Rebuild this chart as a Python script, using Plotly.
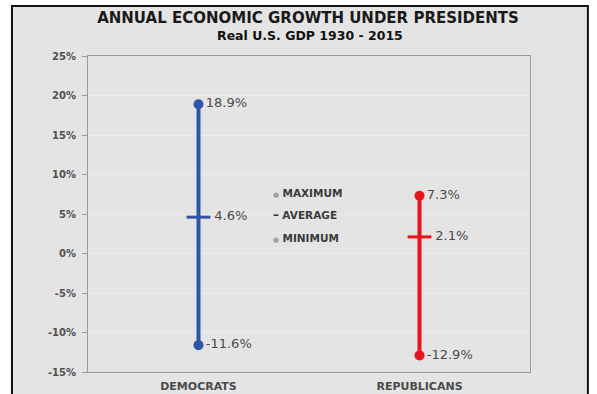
import plotly.graph_objects as go

parties = ["DEMOCRATS", "REPUBLICANS"]
maximum = [18.9, 7.3]
average = [4.6, 2.1]
minimum = [-11.6, -12.9]
colors = ["#2f56a6", "#e8141c"]
y_ticks = [-15, -10, -5, 0, 5, 10, 15, 20, 25]
y_tick_text = ["-15%", "-10%", "-5%", "0%", "5%", "10%", "15%", "20%", "25%"]
legend_labels = ["MAXIMUM", "AVERAGE", "MINIMUM"]

FONT = "DejaVu Sans"
fig = go.Figure()

for i, p in enumerate(parties):
    c = colors[i]
    fig.add_trace(go.Scatter(
        x=[p, p], y=[minimum[i], maximum[i]], mode="lines+markers+text",
        line=dict(color=c, width=4), marker=dict(color=c, size=10),
        text=[f"{minimum[i]}%", f"{maximum[i]}%"], textposition="middle right",
        textfont=dict(family=FONT, size=13, color="#4a4a4a"),
        showlegend=False, hoverinfo="skip"))
    fig.add_trace(go.Scatter(
        x=[p], y=[average[i]], mode="markers+text",
        marker=dict(symbol="line-ew", size=17, line=dict(color=c, width=3)),
        text=[f" {average[i]}%"], textposition="middle right",
        textfont=dict(family=FONT, size=13, color="#4a4a4a"),
        showlegend=False, hoverinfo="skip"))

# outer frame
fig.add_shape(type="rect", xref="paper", yref="paper",
              x0=-0.172, x1=1.131, y0=-0.6, y1=1.158,
              fillcolor="#e4e4e4", line=dict(color="#111111", width=2), layer="below")

# legend text
leg_y = [193, 215, 238]
leg_sym = ["●", "<b>–</b>", "●"]
leg_size = [7, 12, 7]
leg_col = ["#a0a0a0", "#333333", "#a0a0a0"]
for lab, py, sym, sc, ss in zip(legend_labels, leg_y, leg_sym, leg_col, leg_size):
    yp = (372 - py) / 316
    fig.add_annotation(xref="paper", yref="paper", x=(271 - 88) / 442, y=yp,
                       text=f"<span style='color:{sc};font-size:{ss}px'>{sym}</span> <b>{lab}</b>",
                       showarrow=False, xanchor="left", yanchor="middle",
                       font=dict(family=FONT, size=10.5, color="#3a3a3a"))

fig.add_annotation(xref="paper", yref="paper", x=(310 - 88) / 442, y=(372 - 35) / 316,
                   text="<b>Real U.S. GDP 1930 - 2015</b>", showarrow=False,
                   xanchor="center", yanchor="middle",
                   font=dict(family=FONT, size=12.5, color="#111111"))

fig.update_layout(
    width=597, height=394,
    margin=dict(l=88, r=67, t=56, b=22),
    paper_bgcolor="white", plot_bgcolor="#e6e6e6",
    title=dict(text="<b>ANNUAL ECONOMIC GROWTH UNDER PRESIDENTS</b>",
               x=308 / 597, xanchor="center", y=1 - 18 / 394, yanchor="middle",
               font=dict(family=FONT, size=15, color="#1a1a1a")),
    xaxis=dict(range=[-0.5, 1.5], showline=True, linecolor="#9a9a9a", linewidth=1,
               mirror=True, showgrid=False, ticks="", automargin=False,
               ticklabelstandoff=4,
               tickfont=dict(family=FONT, size=11, color="#4a4a4a", weight="bold")),
    yaxis=dict(range=[-15, 25], tickvals=y_ticks, ticktext=y_tick_text,
               showline=True, linecolor="#9a9a9a", linewidth=1, mirror=True,
               ticks="outside", ticklen=5, tickcolor="#9a9a9a", automargin=False,
               ticklabelstandoff=4,
               showgrid=True, gridcolor="#ececec", zeroline=False,
               tickfont=dict(family=FONT, size=10, color="#505050", weight="bold")),
)

fig.write_html("out.html")
